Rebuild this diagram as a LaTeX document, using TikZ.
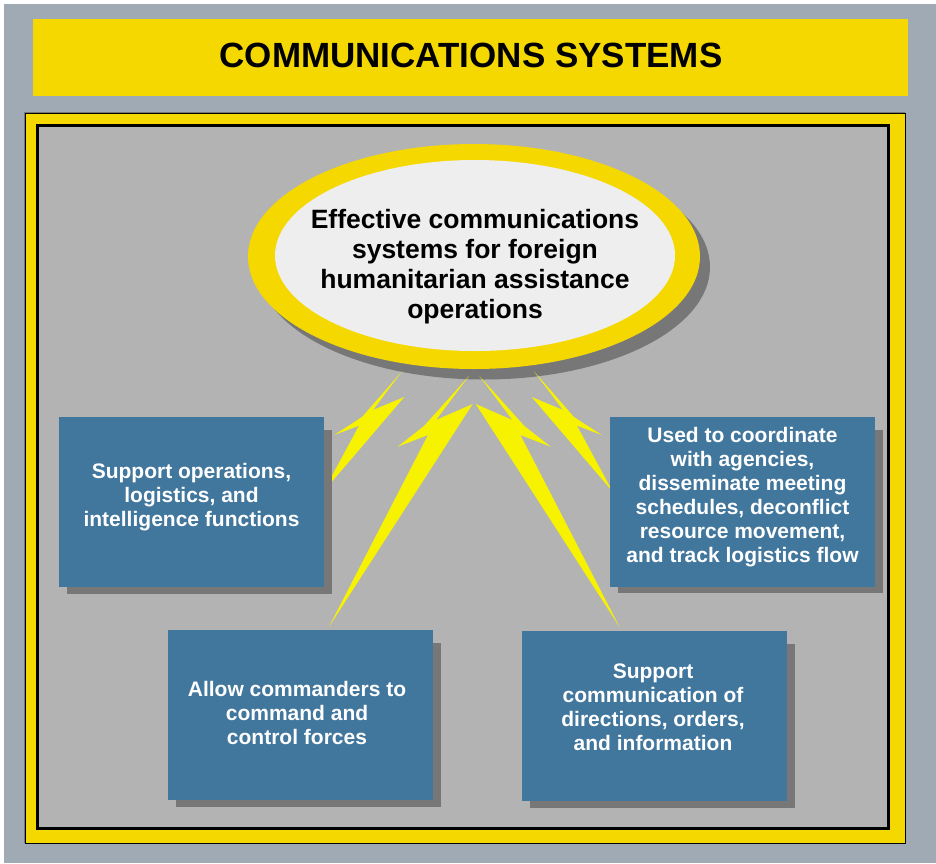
\documentclass[tikz,border=0pt]{standalone}
\usepackage{fontspec}
\setmainfont{Liberation Sans}
\usetikzlibrary{shapes.geometric}
\definecolor{bgc}{HTML}{9FAAB4}
\definecolor{yel}{HTML}{F5D800}
\definecolor{innerc}{HTML}{B3B3B3}
\definecolor{boxc}{HTML}{41769D}
\definecolor{shad}{HTML}{777777}
\definecolor{boltc}{HTML}{F7F200}
\definecolor{ellc}{HTML}{EEEEEE}
\tikzset{
  bluebox/.style={fill=boxc, draw=none, minimum width=265pt, minimum height=170pt, inner sep=0pt},
  shadowbox/.style={fill=shad, draw=none},
  boxtext/.style={text=white, font=\fontsize{21}{24}\selectfont\bfseries, align=center, inner sep=0pt},
  bolt/.style={fill=boltc, draw=none},
}
\begin{document}
\begin{tikzpicture}[x=1pt,y=-1pt]
\useasboundingbox (0,0) rectangle (936,863);
% background
\fill[white] (0,0) rectangle (936,863);
\fill[bgc] (4,4) rectangle (936,863);
% title banner
\node[fill=yel, minimum width=875pt, minimum height=77pt, inner sep=0pt] (banner) at (470.5,57.5) {};
\node[font=\fontsize{35}{40}\selectfont\bfseries, inner sep=0pt] (title) at (471,55.5) {COMMUNICATIONS SYSTEMS};
% frame
\fill[shad] (24,112) rectangle (905,843);
\filldraw[fill=yel, draw=black, line width=0.8pt] (25,113) rectangle (905,843);
\filldraw[fill=innerc, draw=black, line width=3pt] (37.5,125.5) rectangle (888.5,828);
% ellipse
\fill[shad] (484,267) ellipse [x radius=226pt, y radius=112.5pt];
\fill[yel] (474,256.5) ellipse [x radius=226pt, y radius=112.5pt];
\node[fill=ellc, ellipse, minimum width=400pt, minimum height=191pt, inner sep=0pt] (ell) at (475,255.5) {};
\node[font=\fontsize{26.5}{30}\selectfont\bfseries, align=center, inner sep=0pt] (etext) at (475,267) {Effective communications\\systems for foreign\\humanitarian assistance\\operations};
% bolts
\fill[bolt] (402.3,371) -- (373,410) -- (404.3,397) -- (323.3,491.7) -- (359,425.7) -- (334.3,435) -- (362,417) -- cycle;
\fill[bolt] (533.7,371) -- (563,410) -- (531.7,397) -- (612.7,491.7) -- (577,425.7) -- (601.7,435) -- (574,417) -- cycle;
\fill[bolt] (469,376) -- (436,420) -- (472.7,404) -- (329,626.7) -- (428,435) -- (397.7,446.7) -- (424,426) -- cycle;
\fill[bolt] (479.4,376) -- (512.4,420) -- (475.7,404) -- (619.4,626.7) -- (520.4,435) -- (550.7,446.7) -- (524.4,426) -- cycle;
% shadows of boxes
\fill[shad] (67,430) rectangle (332,594);
\fill[shad] (618,430) rectangle (883,593);
\fill[shad] (176,643) rectangle (441,807);
\fill[shad] (530,644) rectangle (795,808);
% boxes
\node[bluebox] (box1) at (191.5,502) {};
\node[bluebox] (box2) at (742.5,502) {};
\node[bluebox] (box3) at (300.5,714.5) {};
\node[bluebox] (box4) at (654.5,716) {};
\node[boxtext] (t1) at (191.5,497) {Support operations,\\logistics, and\\intelligence functions};
\node[boxtext] (t2) at (742.5,497) {Used to coordinate\\with agencies,\\disseminate meeting\\schedules, deconflict\\resource movement,\\and track logistics flow};
\node[boxtext] (t3) at (297,713) {Allow commanders to\\command and\\control forces};
\node[boxtext] (t4) at (653,707) {Support\\communication of\\directions, orders,\\and information};
\end{tikzpicture}
\end{document}
